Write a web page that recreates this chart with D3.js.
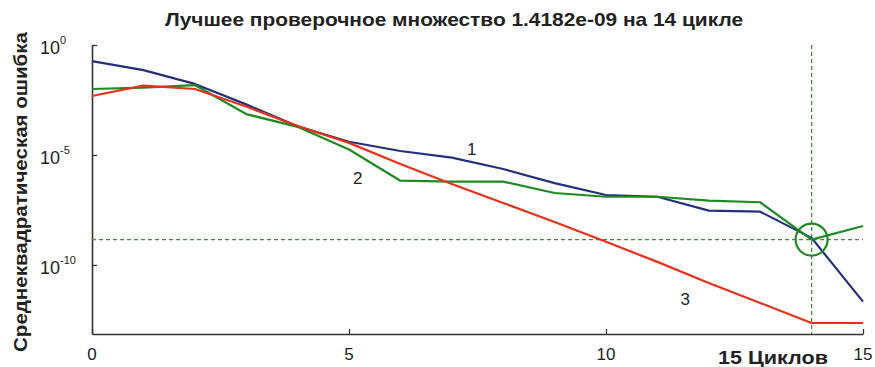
<!DOCTYPE html>
<html>
<head>
<meta charset="utf-8">
<script src="https://cdn.jsdelivr.net/npm/d3@7"></script>
<style>
  html, body { margin: 0; padding: 0; background: #fff; }
  svg { display: block; }
  text { font-family: Arial, "Liberation Sans", sans-serif; fill: #222; }
</style>
</head>
<body>
<svg id="chart" width="875" height="367"></svg>
<script>
// Training cycles (epochs)
const cycles = [0, 1, 2, 3, 4, 5, 6, 7, 8, 9, 10, 11, 12, 13, 14, 15];

// log10 of the mean squared error per cycle
const trainLog = [-0.73, -1.14, -1.77, -2.7, -3.7, -4.4, -4.82, -5.12, -5.64, -6.28, -6.82, -6.9, -7.53, -7.58, -8.77, -11.67];
const validLog = [-2.0, -1.94, -1.82, -3.14, -3.72, -4.75, -6.17, -6.21, -6.21, -6.73, -6.9, -6.9, -7.08, -7.15, -8.848, -8.23];
const testLog  = [-2.32, -1.85, -2.0, -2.8, -3.68, -4.45, -5.41, -6.32, -7.18, -8.05, -8.95, -9.86, -10.82, -11.73, -12.64, -12.64];

const seriesNames = ["1", "2", "3"];
const bestCycle = 14;
const bestValue = 1.4182e-9;

const xTicks = [0, 5, 10, 15];
const yTicks = [1, 1e-5, 1e-10];
const yTickExp = ["0", "-5", "-10"];

const titleText = "Лучшее проверочное множество 1.4182e-09 на 14 цикле";
const yLabelText = "Среднеквадратическая ошибка";
const xLabelText = "15 Циклов";

const svg = d3.select("#chart");

const x = d3.scaleLinear().domain([0, 15]).range([92, 863]);
const y = d3.scaleLog().domain([Math.pow(10, -13.14), 1]).range([334, 45]);

const toPoints = logs => cycles.map((c, i) => ({ c, v: Math.pow(10, logs[i]) }));
const line = d3.line().x(d => x(d.c)).y(d => y(d.v));

const series = [
  { name: seriesNames[0], data: toPoints(trainLog), color: "#24307e" },
  { name: seriesNames[1], data: toPoints(validLog), color: "#1f8a22" },
  { name: seriesNames[2], data: toPoints(testLog),  color: "#e6321c" }
];

// Axes (ticks pointing inward)
const xAxis = d3.axisBottom(x).tickValues(xTicks).tickSizeInner(-5).tickSizeOuter(0).tickFormat("");
const gx = svg.append("g").attr("transform", `translate(0,${y.range()[0]})`).call(xAxis);
const yAxis = d3.axisLeft(y).tickValues(yTicks).tickSizeInner(-5).tickSizeOuter(0).tickFormat("");
const gy = svg.append("g").attr("transform", `translate(${x.range()[0]},0)`).call(yAxis);
[gx, gy].forEach(g => {
  g.selectAll("path.domain").attr("stroke", "#333").attr("stroke-width", 1.6);
  g.selectAll(".tick line").attr("stroke", "#333").attr("stroke-width", 1.3);
});

// Tick labels
svg.append("g").selectAll("text").data(xTicks).join("text")
  .attr("x", d => x(d)).attr("y", 360)
  .attr("text-anchor", "middle")
  .style("font-size", "17px")
  .text(d => d);

const yl = svg.append("g").selectAll("text").data(yTicks).join("text")
  .attr("x", 40).attr("y", d => y(d) + 9)
  .attr("text-anchor", "start")
  .style("font-size", "18px");
yl.append("tspan").text("10");
yl.append("tspan").attr("dy", -10).style("font-size", "11px").text((d, i) => yTickExp[i]);

// Best-epoch reference lines
const refColor = "#3f8a3f";
svg.append("line")
  .attr("x1", x(0)).attr("x2", x(15))
  .attr("y1", y(bestValue)).attr("y2", y(bestValue))
  .attr("stroke", refColor).attr("stroke-width", 1.3).attr("stroke-dasharray", "4,3");
svg.append("line")
  .attr("x1", x(bestCycle)).attr("x2", x(bestCycle))
  .attr("y1", y.range()[1]).attr("y2", y.range()[0])
  .attr("stroke", refColor).attr("stroke-width", 1.3).attr("stroke-dasharray", "4,3");

// Error curves
svg.append("g").selectAll("path").data(series).join("path")
  .attr("d", d => line(d.data))
  .attr("fill", "none")
  .attr("stroke", d => d.color)
  .attr("stroke-width", 2.2)
  .attr("stroke-linejoin", "round");

// Best validation marker
svg.append("circle")
  .attr("cx", x(bestCycle)).attr("cy", y(bestValue)).attr("r", 16)
  .attr("fill", "none").attr("stroke", "#1f8a22").attr("stroke-width", 2.2);

// Curve numbers
const curveLabels = [
  { t: seriesNames[0], c: 7.39, v: Math.pow(10, -5.0) },
  { t: seriesNames[1], c: 5.17, v: Math.pow(10, -6.32) },
  { t: seriesNames[2], c: 11.54, v: Math.pow(10, -11.82) }
];
svg.append("g").selectAll("text").data(curveLabels).join("text")
  .attr("x", d => x(d.c)).attr("y", d => y(d.v))
  .attr("text-anchor", "middle")
  .style("font-size", "17px")
  .text(d => d.t);

// Title and axis labels
svg.append("text")
  .attr("x", 454).attr("y", 26)
  .attr("text-anchor", "middle")
  .attr("textLength", 578).attr("lengthAdjust", "spacingAndGlyphs")
  .style("font-size", "19px").style("font-weight", "bold")
  .text(titleText);

svg.append("text")
  .attr("transform", "translate(27,192) rotate(-90)")
  .attr("text-anchor", "middle")
  .attr("textLength", 320).attr("lengthAdjust", "spacingAndGlyphs")
  .style("font-size", "18px").style("font-weight", "bold")
  .text(yLabelText);

svg.append("text")
  .attr("x", 773).attr("y", 364)
  .attr("text-anchor", "middle")
  .attr("textLength", 110).attr("lengthAdjust", "spacingAndGlyphs")
  .style("font-size", "19px").style("font-weight", "bold")
  .text(xLabelText);
</script>
</body>
</html>
